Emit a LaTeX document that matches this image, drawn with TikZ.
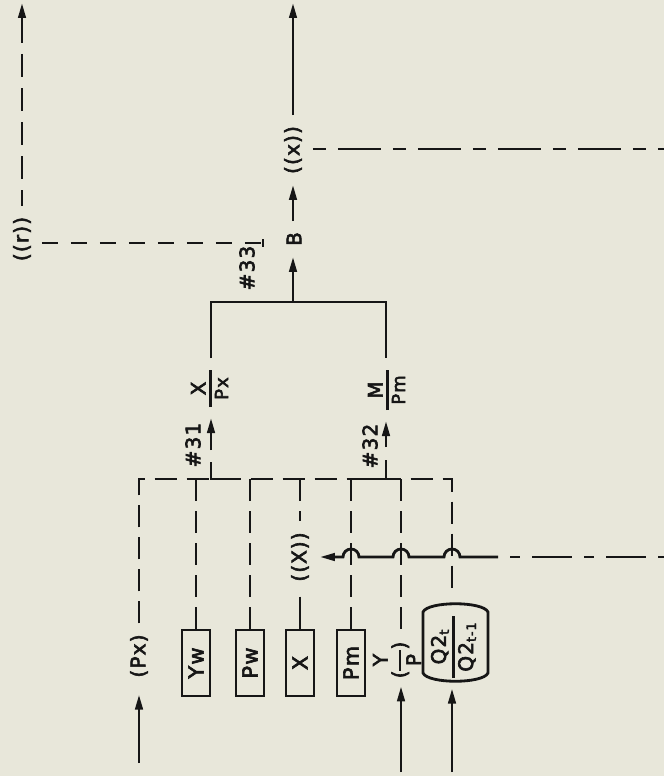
\documentclass[tikz,border=0pt]{standalone}
\usepackage{fontspec}
\usetikzlibrary{arrows.meta,calc}
\newfontfamily\lfam{DejaVu Sans}[FakeBold=3,LetterSpace=6]
\newcommand\lf{\lfam\fontsize{20}{24}\selectfont}
\newcommand\boxf{\lfam\fontsize{21}{24}\selectfont}
\newcommand\smf{\fontsize{18}{20}\selectfont}
\newcommand\subf{\fontsize{13}{14}\selectfont}
% vertical stacked fraction: #1 bar length, #2 numerator, #3 denominator
\newcommand\vfr[3]{\vbox{\hbox to #1{\hss#2\hss}\kern3.5pt\hrule height 2.8pt\kern3pt\hbox to #1{\hss#3\hss}}}
\newcommand\yfr{\raisebox{-14.5pt}{\vbox{\hbox to 21pt{\hss Y\hss}\kern11pt\hrule height 2.8pt\kern5pt\hbox to 21pt{\hss P\hss}}}}
\definecolor{paperc}{RGB}{232,231,218}
\definecolor{inkc}{RGB}{22,22,22}
\tikzset{
  ink/.style={draw=inkc, line width=2.8pt},
  arr/.style={ink, -{Triangle[length=15pt,width=7.5pt]}},
  dsh/.style={ink, dash pattern=on 22pt off 10pt},
  lab/.style={inner sep=0pt, outer sep=11pt, text=inkc, font=\lf},
  boxn/.style={draw=inkc, line width=2.8pt, minimum width=28pt, minimum height=66pt,
     inner sep=0pt, text=inkc, font=\boxf},
}
\begin{document}
\begin{tikzpicture}[x=1pt,y=-1pt]
\fill[paperc] (0,0) rectangle (664,776);
\useasboundingbox (0,0) rectangle (664,776);

% top left ((r))
\node[lab] (r) at (22,239) {\rotatebox{90}{((r))}};
\coordinate (rtop) at (22,3);
\coordinate (rmid) at (22,43);
\draw[ink, dash pattern=on 23pt off 11pt, dash phase=23pt] (rmid) -- (r.north);
\draw[arr] (rmid) -- (rtop);
\coordinate (t33) at (263,243);
\draw[ink, dash pattern=on 16pt off 13pt] (r.east |- t33) -- (t33);
\draw[ink] ([yshift=4pt]t33) -- ([yshift=-4pt]t33);

% main column
\coordinate (xtop) at (293,3);
\node[lab] (xx) at (293,150) {\rotatebox{90}{((x))}};
\draw[arr] (xx.north) -- (xtop);
\coordinate (xright) at (664,149);
\draw[ink, dash pattern=on 13pt off 12pt on 43pt off 12pt] (xx.east |- xright) -- (xright);
\node[lab] (b) at (294,239) {\rotatebox{90}{B}};
\draw[arr] (b.north -| xtop) -- (xx.south);
\coordinate (b33) at (293,302);
\draw[arr] (b33) -- (b.south -| b33);
\coordinate (brl) at (211,358);
\coordinate (brr) at (386,358);
\draw[ink] (brl) |- (b33) -| (brr);
\node[lab] (n33) at (247,268) {\rotatebox{90}{\#33}};

% fractions
\node[lab] (fx) at (209.5,388.5) {\rotatebox{90}{\vfr{37pt}{X}{\smf Px}}};
\node[lab] (fm) at (386.5,390) {\rotatebox{90}{\vfr{40pt}{M}{\smf Pm}}};

% #31 and #32
\node[lab] (n31) at (193,445) {\rotatebox{90}{\#31}};
\coordinate (a31) at (211,450);
\draw[arr] (a31) -- (fx.south -| a31);
\coordinate (l31) at (211,462);
\coordinate (l31r) at (230,479);
\draw[ink] (l31) |- (l31r);
\node[lab] (n32) at (370,446) {\rotatebox{90}{\#32}};
\coordinate (a32) at (386,447);
\draw[arr] (a32) -- (fm.south -| a32);
\coordinate (l32) at (386,460);
\coordinate (l32l) at (367,479);
\draw[ink] (l32) |- (l32l);

% bus
\coordinate (bus) at (0,479);
\node[lab] (px) at (139,656) {\rotatebox{90}{(Px)}};
\node[inner sep=0pt, outer sep=6pt, minimum width=65pt, minimum height=79pt] (q2) at (455.5,643) {};
\coordinate (q2c) at (452,643);
\node[text=inkc, font=\lf, inner sep=0pt] (q2t) at (453.5,647)
  {\rotatebox{90}{\vfr{62pt}{Q2{\subf\raisebox{-3pt}{t}}}{Q2{\subf\raisebox{-3pt}{t-1}}}}};
\draw[ink] (423,612) .. controls (428,601) and (483,601) .. (488,612)
  -- (488,673) .. controls (483,684) and (428,684) .. (423,673) -- cycle;
\draw[dsh] (px.north) -- (px.north |- bus) -- (q2c |- bus) -- (q2.north -| q2c);
\coordinate (pxb) at (139,763);
\draw[arr, shorten >=6pt] (pxb) -- (px.south);

% boxes
\node[boxn] (yw) at (196,663) {\rotatebox{90}{Yw}};
\node[boxn] (pw) at (250,663) {\rotatebox{90}{Pw}};
\node[boxn] (xb) at (300,663) {\rotatebox{90}{X}};
\node[boxn] (pm) at (351,663) {\rotatebox{90}{Pm}};
\draw[dsh] (yw.north |- bus) -- (yw.north);
\draw[dsh] (pw.north |- bus) -- (pw.north);
\draw[dsh] (pm.north |- bus) -- (pm.north);

\node[lab] (xl) at (300,557) {\rotatebox{90}{((\kern1pt X\kern1pt))}};
\draw[dsh] (xl.north |- bus) -- (xl.north);
\draw[ink, shorten <=4pt] (xl.south) -- (xb.north);

\coordinate (ypb) at (401,772);
\node[lab, outer sep=8pt] (yp) at (397,660) {\rotatebox{90}{(\yfr)}};
\draw[dsh] (ypb |- bus) -- (yp.north -| ypb);
\draw[arr] (ypb) -- (yp.south -| ypb);
\coordinate (q2b) at (452,772);
\draw[arr] (q2b) -- (q2.south -| q2b);

% line with hops
\coordinate (hr) at (664,557);
\coordinate (hs) at (498,557);
\draw[ink, dash pattern=on 10pt off 12pt on 40pt off 12pt, dash phase=62pt] (hs) -- (hr);
\draw[arr] (hs) -- ([xshift=8pt]q2c |- hs) arc[start angle=0,end angle=180,radius=8pt]
  -- ([xshift=8pt]ypb |- hs) arc[start angle=0,end angle=180,radius=8pt]
  -- ([xshift=8pt]pm.north |- hs) arc[start angle=0,end angle=180,radius=8pt]
  -- (xl.east);
\end{tikzpicture}
\end{document}
